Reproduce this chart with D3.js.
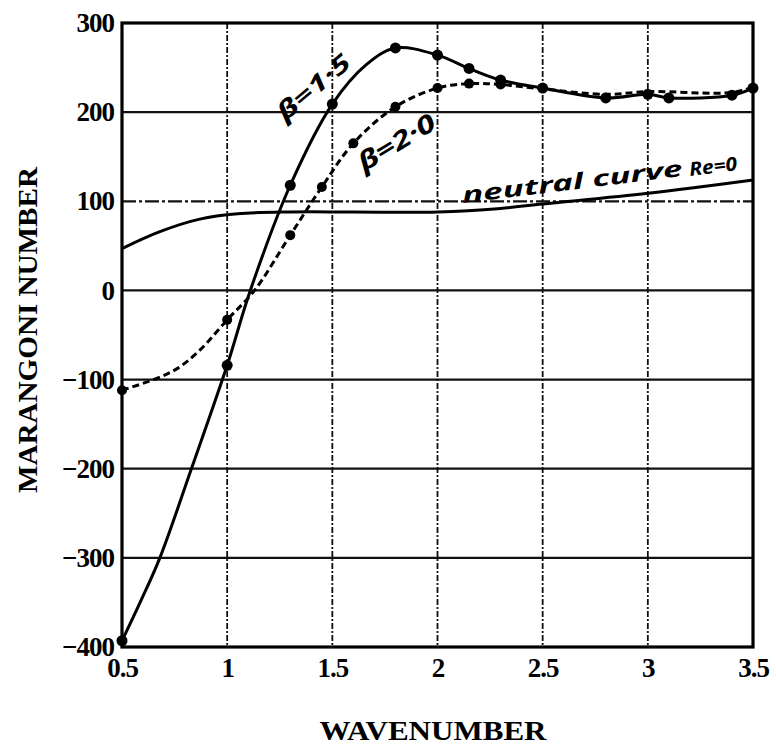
<!DOCTYPE html>
<html>
<head>
<meta charset="utf-8">
<script src="https://cdn.jsdelivr.net/npm/d3@7/dist/d3.min.js"></script>
<style>
  html, body { margin: 0; padding: 0; background: #fff; }
  svg { display: block; }
</style>
</head>
<body>
<svg id="chart" width="776" height="751"></svg>
<script>
// ---- data ----
const xTicks = [0.5, 1, 1.5, 2, 2.5, 3, 3.5];
const yTicks = [300, 200, 100, 0, -100, -200, -300, -400];

// beta = 1.5 (solid curve)
const beta15X = [0.5, 0.59, 0.68, 0.83, 1.0, 1.11, 1.3, 1.5, 1.66, 1.8, 2.0, 2.15, 2.3, 2.5, 2.8, 3.0, 3.1, 3.4, 3.5];
const beta15Y = [-393, -348, -300, -200, -84, 0, 118, 209, 253, 272, 264, 249, 236, 227, 216, 220, 216, 219, 227];
const beta15MarkX = [0.5, 1.0, 1.3, 1.5, 1.8, 2.0, 2.15, 2.3, 2.5, 2.8, 3.0, 3.1, 3.4, 3.5];

// beta = 2.0 (dashed curve)
const beta20X = [0.5, 0.65, 0.76, 0.87, 1.0, 1.13, 1.3, 1.45, 1.6, 1.8, 2.0, 2.15, 2.3, 2.5, 2.8, 3.0, 3.4, 3.5];
const beta20Y = [-112, -100, -88, -67, -33, 0, 62, 116, 165, 206, 227, 232, 231, 226, 220, 223, 222, 228];
const beta20MarkX = [0.5, 1.0, 1.3, 1.45, 1.6, 1.8, 2.0, 2.15, 2.3];

// neutral curve Re = 0
const neutralX = [0.5, 0.68, 0.87, 1.05, 1.3, 1.6, 2.0, 2.3, 2.5, 3.0, 3.5];
const neutralY = [47, 66, 80, 86, 88, 88, 88, 92, 97, 109, 124];

const xTitle = "WAVENUMBER";
const yTitle = "MARANGONI NUMBER";

// ---- layout ----
const svg = d3.select("#chart");
const pLeft = 122, pRight = 753, pTop = 23, pBottom = 647;
const x = d3.scaleLinear().domain([0.5, 3.5]).range([pLeft, pRight]);
const y = d3.scaleLinear().domain([-400, 300]).range([pBottom, pTop]);
const serif = "'Liberation Serif', 'DejaVu Serif', serif";
const hand = "'Noto Sans', 'DejaVu Sans', sans-serif";

// grid
const g = svg.append("g");
g.selectAll("line.hgrid").data(yTicks.filter(v => v > -400 && v < 300)).enter()
  .append("line").attr("class", "hgrid")
  .attr("x1", pLeft).attr("x2", pRight)
  .attr("y1", d => y(d)).attr("y2", d => y(d))
  .attr("stroke", "#111").attr("stroke-width", 2.2)
  .attr("stroke-dasharray", d => d === 100 ? "14,3,3,3" : null);
g.selectAll("line.vgrid").data(xTicks.filter(v => v > 0.5 && v < 3.5)).enter()
  .append("line").attr("class", "vgrid")
  .attr("y1", pTop).attr("y2", pBottom)
  .attr("x1", d => x(d)).attr("x2", d => x(d))
  .attr("stroke", "#111").attr("stroke-width", 1.8)
  .attr("stroke-dasharray", "6,2,2,2");

// frame
svg.append("rect").attr("x", pLeft).attr("y", pTop)
  .attr("width", pRight - pLeft).attr("height", pBottom - pTop)
  .attr("fill", "none").attr("stroke", "#000").attr("stroke-width", 3.2);

// axes
const yAxis = svg.append("g").attr("transform", `translate(${pLeft},0)`)
  .call(d3.axisLeft(y).tickValues(yTicks).tickSize(0).tickPadding(8).tickFormat(d3.format("d")));
yAxis.select(".domain").remove();
yAxis.selectAll("text").attr("font-family", serif).attr("font-weight", "bold")
  .attr("font-size", 27).attr("fill", "#000").attr("letter-spacing", -1);

const xAxis = svg.append("g").attr("transform", `translate(0,${pBottom})`)
  .call(d3.axisBottom(x).tickValues(xTicks).tickSize(0).tickPadding(11).tickFormat(d => String(d)));
xAxis.select(".domain").remove();
xAxis.selectAll("text").attr("font-family", serif).attr("font-weight", "bold")
  .attr("font-size", 27).attr("fill", "#000").attr("letter-spacing", -1);

// titles
svg.append("text").attr("x", 433).attr("y", 740).attr("text-anchor", "middle")
  .attr("font-family", serif).attr("font-weight", "bold").attr("font-size", 27)
  .attr("textLength", 227).attr("lengthAdjust", "spacingAndGlyphs")
  .text(xTitle);
svg.append("text").attr("transform", "translate(37,330) rotate(-90)")
  .attr("text-anchor", "middle")
  .attr("font-family", serif).attr("font-weight", "bold").attr("font-size", 28)
  .attr("textLength", 326).attr("lengthAdjust", "spacingAndGlyphs")
  .text(yTitle);

// curves
const line = d3.line().x(d => x(d[0])).y(d => y(d[1])).curve(d3.curveCatmullRom.alpha(0.5));
const zip = (xs, ys) => xs.map((v, i) => [v, ys[i]]);
const b15 = zip(beta15X, beta15Y);
const b20 = zip(beta20X, beta20Y);
const neu = zip(neutralX, neutralY);

svg.append("path").datum(neu).attr("d", line)
  .attr("fill", "none").attr("stroke", "#000").attr("stroke-width", 3);
svg.append("path").datum(b20).attr("d", line)
  .attr("fill", "none").attr("stroke", "#000").attr("stroke-width", 3)
  .attr("stroke-dasharray", "7,4");
svg.append("path").datum(b15).attr("d", line)
  .attr("fill", "none").attr("stroke", "#000").attr("stroke-width", 3);

const mark15 = b15.filter(d => beta15MarkX.includes(d[0]));
const mark20 = b20.filter(d => beta20MarkX.includes(d[0]));
svg.selectAll("circle.m15").data(mark15).enter().append("circle").attr("class", "m15")
  .attr("cx", d => x(d[0])).attr("cy", d => y(d[1])).attr("r", 5.5).attr("fill", "#000");
svg.selectAll("circle.m20").data(mark20).enter().append("circle").attr("class", "m20")
  .attr("cx", d => x(d[0])).attr("cy", d => y(d[1])).attr("r", 5).attr("fill", "#000");

// handwritten annotations
svg.append("text").attr("transform", "translate(285,122) rotate(-40)")
  .attr("font-family", hand).attr("font-style", "italic").attr("font-weight", "bold")
  .attr("font-size", 24).attr("textLength", 88).attr("lengthAdjust", "spacingAndGlyphs")
  .text("β=1·5");
svg.append("text").attr("transform", "translate(364,172) rotate(-31)")
  .attr("font-family", hand).attr("font-style", "italic").attr("font-weight", "bold")
  .attr("font-size", 25).attr("textLength", 86).attr("lengthAdjust", "spacingAndGlyphs")
  .text("β=2·0");
svg.append("text").attr("transform", "translate(463,203) rotate(-7)")
  .attr("font-family", hand).attr("font-style", "italic").attr("font-weight", "bold")
  .attr("font-size", 22).attr("textLength", 222).attr("lengthAdjust", "spacingAndGlyphs")
  .text("neutral curve");
svg.append("text").attr("transform", "translate(690,176) rotate(-7)")
  .attr("font-family", hand).attr("font-style", "italic").attr("font-weight", "bold")
  .attr("font-size", 19).attr("textLength", 48).attr("lengthAdjust", "spacingAndGlyphs")
  .text("Re=0");
</script>
</body>
</html>
